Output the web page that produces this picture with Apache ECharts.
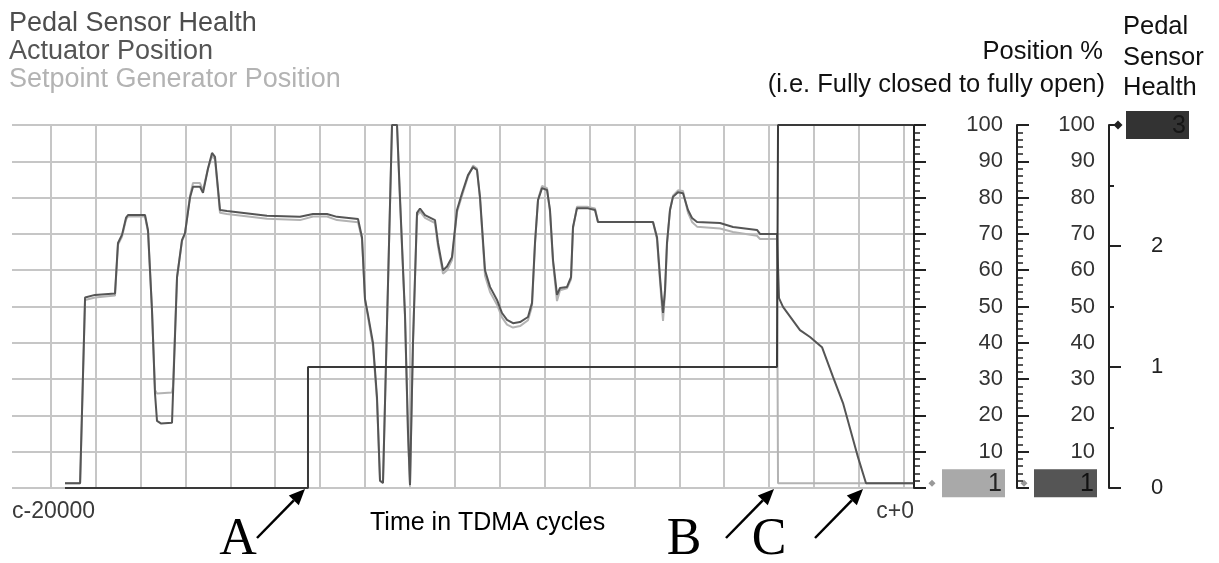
<!DOCTYPE html>
<html><head><meta charset="utf-8">
<script src="https://cdn.jsdelivr.net/npm/echarts@6/dist/echarts.min.js"></script>
<style>html,body{margin:0;padding:0;background:#fff}#c{width:1219px;height:563px}</style>
</head><body><div id="c"></div>
<script>
// ---------- data ----------
const timeMin = -20000, timeMax = 0;
const xTickLabels = ['c-20000', 'c+0'];
const gridTimes = [-19142,-18146,-17151,-16155,-15160,-14164,-13168,-12173,-11177,-10182,-9186,-8190,-7195,-6199,-5204,-4208,-3212,-2217,-1221,-226];
const seriesNames = ['Pedal Sensor Health', 'Actuator Position', 'Setpoint Generator Position'];

const healthTime  = [-18825, -13437, -13437, -3038, -3015, -20];
const healthValue = [0, 0, 1, 1, 3, 3];

const actuatorTime = [-18825,-18490,-18380,-18160,-17716,-17650,-17560,-17470,-17428,-17051,-16984,-16896,-16829,-16785,-16700,-16452,-16430,-16341,-16231,-16164,-16053,-15987,-15831,-15765,-15654,-15565,-15499,-15388,-15233,-14346,-13614,-13326,-13016,-12794,-12328,-12239,-12173,-12106,-11996,-11907,-11840,-11774,-11750,-11574,-11463,-11397,-11286,-11219,-11175,-11109,-11020,-10953,-10843,-10621,-10554,-10443,-10355,-10244,-10133,-10022,-9889,-9778,-9690,-9623,-9512,-9401,-9246,-9135,-9024,-8891,-8736,-8559,-8470,-8404,-8337,-8248,-8137,-8071,-8004,-7916,-7849,-7694,-7605,-7561,-7472,-7251,-7073,-7007,-5787,-5698,-5632,-5565,-5521,-5477,-5410,-5344,-5233,-5122,-5011,-4922,-4811,-4302,-4013,-3481,-3415,-3038,-2993,-2905,-2528,-2306,-2040,-1796,-1574,-1242,-1064,-20];
const actuatorValue = [1.3,1.3,52.5,53.2,53.6,67.5,69.8,74.5,75.2,75.2,71,49,26,18.5,17.8,18,26,58,68.3,70.2,80,83,83,81.3,88,92.3,91.2,76.6,76.3,75,74.7,75.5,75.5,74.7,74.1,69,52,47.7,40,25,2,1.4,1.4,100,100,80,47.7,15.4,0.8,40,75.8,77,75.2,73.8,67.5,60,61,63.6,76.6,81.2,86.2,88.4,87.6,80.2,60,55.4,51.8,48.2,46.3,45.4,45.7,47.1,51,67.5,79.3,82.6,82.1,76.6,62.8,53.2,55.1,55.4,58.1,71.9,77.1,77.1,76.6,73.3,73.3,69.1,58.1,48.2,54.5,67.5,76.6,80.2,81.5,81.2,76.6,74.4,73.3,73,71.9,71.1,70,70,52.3,49.9,43.5,41.6,38.8,30.6,23.4,8.5,1.3,1.3];

const setpointTime = [-18825,-18490,-18380,-18160,-17716,-17650,-17560,-17470,-17428,-17051,-16984,-16896,-16829,-16785,-16452,-16430,-16341,-16231,-16164,-16053,-15987,-15831,-15765,-15654,-15565,-15499,-15388,-15233,-14346,-13614,-13326,-13016,-12794,-12328,-12239,-12173,-12106,-11996,-11907,-11840,-11774,-11750,-11574,-11463,-11397,-11286,-11219,-11175,-11109,-11020,-10953,-10843,-10621,-10554,-10443,-10355,-10244,-10133,-10022,-9889,-9778,-9690,-9623,-9512,-9401,-9246,-9135,-9024,-8891,-8736,-8559,-8470,-8404,-8337,-8248,-8137,-8071,-8004,-7916,-7849,-7694,-7605,-7561,-7472,-7251,-7073,-7007,-5787,-5698,-5632,-5565,-5521,-5477,-5410,-5344,-5233,-5122,-5011,-4922,-4811,-4302,-4013,-3481,-3415,-3038,-3015,-20];
const setpointValue = [1.3,1.3,51.8,52.5,53,67,69.3,74,74.8,74.8,70.5,49,27,26,26.3,28,58,68,70,80.5,84,84,82,88,91.5,90.5,75.8,75.5,74.2,73.8,74.8,74.8,73.8,73.2,68.5,52,47,39,24,2,1.4,1.4,100,100,79,47,14,0.8,40,75,76.2,74.4,73,66.5,59,60,62.8,76,80.5,85.8,88.8,88,79.5,58.5,54,50.5,47,45,44.2,44.6,46.2,50,67,79.5,83.2,82.6,76,62,51.5,54.5,55,57.5,71.5,77.5,77.5,77,73.3,73.3,68.5,57,46,53.5,67,76.6,80.5,82,81.8,75.8,73.3,72,71.5,70.5,69.5,68.6,68.6,1.3,1.3];

const annotationLabels = ['A', 'B', 'C'];
const annotationTimes = [-13437, -3038, -1064];

// ---------- styles / layout ----------
const SANS = '"Liberation Sans", Arial, sans-serif';
const SERIF = '"Liberation Serif", "Times New Roman", serif';
const gridColor = '#c6c6c6';
const zip = (t, v) => t.map((x, i) => [x, v[i]]);

const posAxis = (offset) => ({
  type: 'value', position: 'right', offset: offset, min: 0, max: 100, interval: 10,
  axisLine: { show: true, lineStyle: { color: '#222', width: 2 } },
  axisTick: { show: true, length: 12, lineStyle: { color: '#222', width: 2 } },
  minorTick: { show: true, splitNumber: 5, length: 6, lineStyle: { color: '#222', width: 1.5 } },
  axisLabel: { margin: 78, align: 'right', color: '#333', fontSize: 22, fontFamily: SANS,
    formatter: v => v === 0 ? '' : String(v) },
  splitLine: { show: false }
});

const y0 = posAxis(11);
y0.splitLine = { show: true, lineStyle: { color: gridColor, width: 2 } };
const y1 = posAxis(103);
const y2 = {
  type: 'value', position: 'right', offset: 195, min: 0, max: 3, interval: 1,
  axisLine: { show: true, lineStyle: { color: '#222', width: 2 } },
  axisTick: { show: true, length: 12, lineStyle: { color: '#222', width: 2 } },
  minorTick: { show: true, splitNumber: 2, length: 5, lineStyle: { color: '#222', width: 2 } },
  axisLabel: { margin: 48, align: 'center', color: '#222', fontSize: 22, fontFamily: SANS,
    formatter: v => v === 3 ? '' : String(v) },
  splitLine: { show: false }
};

const option = {
  animation: false,
  backgroundColor: '#fff',
  grid: { left: 12, right: 305, top: 125, bottom: 75, containLabel: false },
  legend: {
    orient: 'vertical', left: 4, top: 10, padding: 0, itemGap: 0, itemWidth: 0, itemHeight: 28,
    icon: 'none', selectedMode: false,
    textStyle: { fontSize: 27, fontFamily: SANS, lineHeight: 28 },
    data: [
      { name: seriesNames[0], textStyle: { color: '#4d4d4d' } },
      { name: seriesNames[1], textStyle: { color: '#555555' } },
      { name: seriesNames[2], textStyle: { color: '#b3b3b3' } }
    ]
  },
  xAxis: {
    type: 'value', min: timeMin, max: timeMax, interval: timeMax - timeMin,
    axisLine: { show: false }, axisTick: { show: false }, splitLine: { show: false },
    axisLabel: {
      margin: 12, fontSize: 23, fontFamily: SANS, color: '#3a3a3a',
      showMinLabel: true, showMaxLabel: true, alignMinLabel: 'left', alignMaxLabel: 'right',
      formatter: v => v === timeMin ? xTickLabels[0] : (v === timeMax ? xTickLabels[1] : '')
    }
  },
  yAxis: [y0, y1, y2],
  series: [
    {
      name: seriesNames[2], type: 'line', yAxisIndex: 0, data: zip(setpointTime, setpointValue),
      showSymbol: false, symbol: 'none', z: 2,
      lineStyle: { color: '#b3b3b3', width: 2 }, itemStyle: { color: '#b3b3b3' },
      markLine: {
        z: 1, silent: true, symbol: ['none', 'none'], label: { show: false },
        lineStyle: { color: gridColor, width: 2, type: 'solid' },
        data: gridTimes.map(t => ({ xAxis: t }))
      }
    },
    {
      name: seriesNames[1], type: 'line', yAxisIndex: 1, data: zip(actuatorTime, actuatorValue),
      showSymbol: false, symbol: 'none', z: 3,
      lineStyle: { color: '#555555', width: 2 }, itemStyle: { color: '#555555' }
    },
    {
      name: seriesNames[0], type: 'line', yAxisIndex: 2, data: zip(healthTime, healthValue),
      showSymbol: false, symbol: 'none', z: 4,
      lineStyle: { color: '#3a3a3a', width: 2 }, itemStyle: { color: '#3a3a3a' }
    }
  ]
};

const chart = echarts.init(document.getElementById('c'));
chart.setOption(option);

// ---------- annotations built from the axes ----------
const g = [];
const rightX = chart.convertToPixel({ xAxisIndex: 0 }, timeMax);
const axisOffsets = [11, 103, 195];
const lastVals = [setpointValue[setpointValue.length - 1], actuatorValue[actuatorValue.length - 1], healthValue[healthValue.length - 1]];
const tagFill = ['#a9a9a9', '#555555', '#333333'];
const tagText = ['#222', '#111', '#161616'];
lastVals.forEach((v, i) => {
  const ax = rightX + axisOffsets[i];
  const y = chart.convertToPixel({ yAxisIndex: i }, v);
  g.push({ type: 'rect', shape: { x: ax + 17, y: y - 14, width: 63, height: 28 }, style: { fill: tagFill[i] } });
  g.push({ type: 'text', x: ax + 77, y: y + 1, style: { text: String(Math.round(v)), align: 'right', verticalAlign: 'middle', font: '25px ' + SANS, fill: tagText[i] } });
  const s = i === 2 ? 4.5 : 3.5, cx = ax + (i === 2 ? 9 : 7);
  g.push({ type: 'polygon', shape: { points: [[cx - s, y], [cx, y - s], [cx + s, y], [cx, y + s]] }, style: { fill: i === 2 ? '#222' : '#999' } });
});

// axis titles
const title = (text, x, y, align, size, color) => ({ type: 'text', x, y, style: { text, align, verticalAlign: 'middle', font: size + 'px ' + SANS, fill: color || '#111' } });
g.push(title('Position %', 1103, 52, 'right', 25.5));
g.push(title('(i.e. Fully closed to fully open)', 1105, 85, 'right', 25.5));
g.push(title('Pedal', 1123, 27, 'left', 25.5));
g.push(title('Sensor', 1123, 58, 'left', 25.5));
g.push(title('Health', 1123, 88, 'left', 25.5));
g.push(title('Time in TDMA cycles', 370, 523, 'left', 25, '#000'));

// arrows + letters
const letterDx = [-19, -42, -46];
annotationTimes.forEach((t, i) => {
  const p = chart.convertToPixel({ xAxisIndex: 0, yAxisIndex: 0 }, [t, 0]);
  const hx = p[0] - 3, hy = p[1] + 1;
  const tx = hx - 48, ty = hy + 49;
  const L = Math.hypot(hx - tx, hy - ty), ux = (hx - tx) / L, uy = (hy - ty) / L;
  const bx = hx - 16 * ux, by = hy - 16 * uy, px = -uy, py = ux;
  g.push({ type: 'line', shape: { x1: tx, y1: ty, x2: bx, y2: by }, style: { stroke: '#000', lineWidth: 2.5 } });
  g.push({ type: 'polygon', shape: { points: [[hx, hy], [bx + 7 * px, by + 7 * py], [bx - 7 * px, by - 7 * py]] }, style: { fill: '#000' } });
  g.push({ type: 'text', x: tx + letterDx[i], y: 540, style: { text: annotationLabels[i], align: 'center', verticalAlign: 'middle', font: '52px ' + SERIF, fill: '#000' } });
});

chart.setOption({ graphic: g });
</script>
</body></html>
